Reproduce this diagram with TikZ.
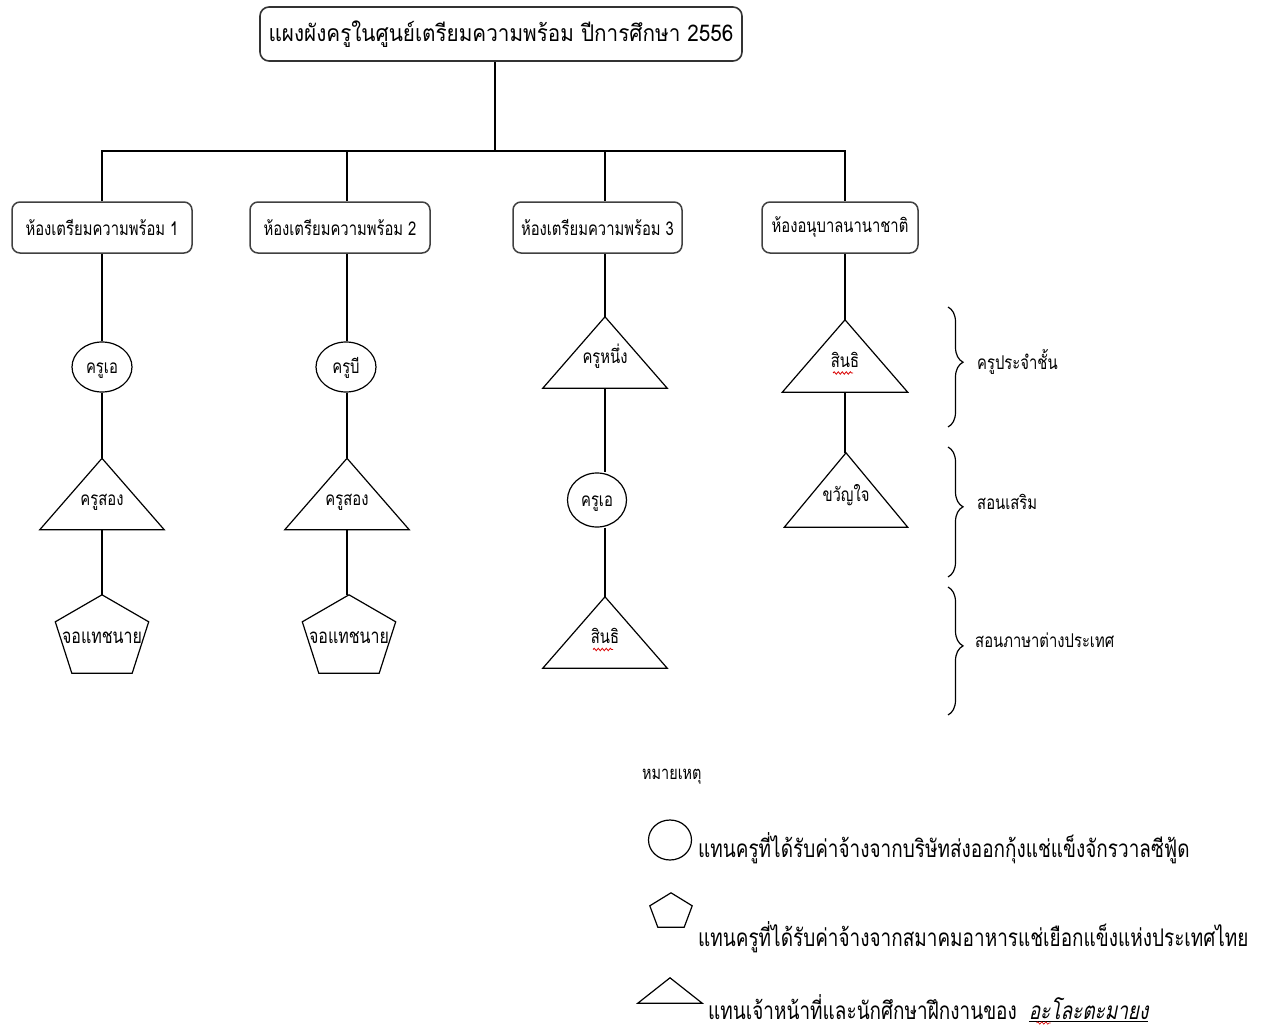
\documentclass[tikz,border=0pt]{standalone}
\usepackage{fontspec}
\newfontfamily\thai[Script=Thai,FakeStretch=0.9]{Loma}
\newfontfamily\thaicond[Script=Thai,FakeStretch=0.78]{Loma}
\newfontfamily\thaislant[Script=Thai,FakeStretch=0.78,FakeSlant=0.2]{Loma}
\usetikzlibrary{shapes.geometric,decorations.pathreplacing,decorations.pathmorphing}
\tikzset{
  conn/.style={draw=black, line width=1.2pt},
  titlebox/.style={draw=black!80, line width=1.6pt, rounded corners=9pt,
    minimum width=482pt, minimum height=54pt, inner sep=0pt,
    font=\thai\fontsize{23}{28}\selectfont},
  roombox/.style={draw=black!75, line width=1.5pt, rounded corners=8pt,
    minimum height=51pt, inner sep=0pt,
    font=\thaicond\fontsize{19}{22}\selectfont},
  lbl/.style={font=\thaicond\fontsize{19}{22}\selectfont},
  ell/.style={ellipse, draw, line width=1.2pt, minimum width=60pt, minimum height=50pt,
    inner sep=0pt, lbl, text height=12pt, text depth=0pt},
  tri/.style={inner sep=0pt, minimum width=124pt, minimum height=71pt, lbl,
    text height=22pt, text depth=0pt,
    append after command={\pgfextra{\draw[line width=1.2pt, line join=miter]
      (\tikzlastnode.south west) -- (\tikzlastnode.north) -- (\tikzlastnode.south east) -- cycle;}}},
  penta/.style={inner sep=0pt, minimum width=93pt, minimum height=78pt,
    font=\thaicond\fontsize{20.5}{24}\selectfont,
    text height=18pt, text depth=0pt,
    append after command={\pgfextra{\draw[line width=1.2pt, line join=miter]
      (\tikzlastnode.north) -- ([yshift=-27pt]\tikzlastnode.north east)
      -- ([xshift=-16.5pt]\tikzlastnode.south east) -- ([xshift=16.5pt]\tikzlastnode.south west)
      -- ([yshift=-27pt]\tikzlastnode.north west) -- cycle;}}},
  legtxt/.style={anchor=west, inner sep=0pt, font=\thaicond\fontsize{24.3}{28}\selectfont},
  bracetxt/.style={anchor=west, inner sep=0pt, font=\thaicond\fontsize{19}{22}\selectfont},
  brc/.style={draw, line width=1.2pt, decorate, decoration={brace, amplitude=15pt, aspect=0.46}},
  squig/.style={draw=red!85!black, line width=0.8pt, decorate,
    decoration={snake, amplitude=1.2pt, segment length=4pt}}
}
\begin{document}
\begin{tikzpicture}[x=1pt,y=-1pt]
\useasboundingbox (0,0) rectangle (1266,1030);

% title
\node[titlebox] (title) at (501,34) {แผงผังครูในศูนย์เตรียมความพร้อม ปีการศึกษา 2556};

% rooms
\node[roombox, minimum width=180pt] (r1) at (102,227.5) {ห้องเตรียมความพร้อม 1};
\node[roombox, minimum width=180pt] (r2) at (340,227.5) {ห้องเตรียมความพร้อม 2};
\node[roombox, minimum width=169pt] (r3) at (597.5,227.5) {ห้องเตรียมความพร้อม 3};
\node[roombox, minimum width=156pt] (r4) at (840,227.5) {ห้องอนุบาลนานาชาติ};

% column 1
\node[ell] (c1a) at (102,367) {ครูเอ};
\node[tri] (c1b) at (102,494) {ครูสอง};
\node[penta] (c1c) at (102,634) {จอแทชนาย};
% column 2
\node[ell] (c2a) at (346,367) {ครูบี};
\node[tri] (c2b) at (347,494) {ครูสอง};
\node[penta] (c2c) at (349,634) {จอแทชนาย};
% column 3
\node[tri] (c3a) at (605,352.5) {ครูหนึ่ง};
\node[ell, minimum width=59pt, minimum height=54pt] (c3b) at (597,500) {ครูเอ};
\node[tri] (c3c) at (605,632.5) {สินธิ};
% column 4
\node[tri, minimum width=125pt, minimum height=72pt] (c4a) at (845,356) {สินธิ};
\node[tri, minimum width=123pt, minimum height=74pt] (c4b) at (846,490) {ขวัญใจ};

% spell-check squiggles
\draw[squig] ([xshift=-12pt,yshift=-17pt]c3c.center) -- ([xshift=8pt,yshift=-17pt]c3c.center);
\draw[squig] ([xshift=-12pt,yshift=-17pt]c4a.center) -- ([xshift=8pt,yshift=-17pt]c4a.center);

% connectors
\coordinate (bus) at (495,151);
\draw[conn] (title.south -| bus) -- (bus);
\draw[conn] (r1.north -| c1a) |- (bus) -| (r4.north -| c4a.north);
\draw[conn] (bus -| c2b.north) -- (r2.north -| c2b.north);
\draw[conn] (bus -| c3a.north) -- (r3.north -| c3a.north);

\draw[conn] (r1.south -| c1a) -- (c1a.north);
\draw[conn] (c1a.south) -- (c1b.north);
\draw[conn] (c1b.south) -- (c1c.north);

\draw[conn] (r2.south -| c2b.north) -- (c2a.north -| c2b.north);
\draw[conn] (c2a.south -| c2b.north) -- (c2b.north);
\draw[conn] (c2b.south) -- (c2c.north -| c2b.south);

\draw[conn] (r3.south -| c3a.north) -- (c3a.north);
\draw[conn] (c3a.south) -- (c3b.north -| c3a.south);
\draw[conn] (c3b.south -| c3a.south) -- (c3c.north);

\draw[conn] (r4.south -| c4a.north) -- (c4a.north);
\draw[conn] (c4a.south) -- (c4b.north -| c4a.south);

% braces
\coordinate (b1t) at (948,307); \coordinate (b1b) at (948,427);
\coordinate (b2t) at (948,447); \coordinate (b2b) at (948,577);
\coordinate (b3t) at (948,587); \coordinate (b3b) at (948,715);
\draw[brc] (b1t) -- (b1b);
\draw[brc] (b2t) -- (b2b);
\draw[brc] (b3t) -- (b3b);
\node[bracetxt] (g1) at (977,362) {ครูประจำชั้น};
\node[bracetxt] (g2) at (977,502) {สอนเสริม};
\node[bracetxt] (g3) at (975,640) {สอนภาษาต่างประเทศ};

% legend
\node[anchor=west, inner sep=0pt, font=\thaicond\fontsize{18.5}{22}\selectfont] (note) at (642,777) {หมายเหตุ};
\node[ellipse, draw, line width=1.2pt, minimum width=43pt, minimum height=40pt, inner sep=0pt] (lc) at (670,840) {};
\node[inner sep=0pt, minimum width=42pt, minimum height=34pt,
  append after command={\pgfextra{\draw[line width=1.2pt, line join=miter]
      (\tikzlastnode.north) -- ([yshift=-13pt]\tikzlastnode.north east)
      -- ([xshift=-8pt]\tikzlastnode.south east) -- ([xshift=8pt]\tikzlastnode.south west)
      -- ([yshift=-13pt]\tikzlastnode.north west) -- cycle;}}] (lp) at (671,910) {};
\node[tri, minimum width=64pt, minimum height=25pt] (lt) at (670,990.5) {};
\node[legtxt] (lt1) at (698,848) {แทนครูที่ได้รับค่าจ้างจากบริษัทส่งออกกุ้งแช่แข็งจักรวาลซีฟู้ด};
\node[legtxt] (lt2) at (698,937) {แทนครูที่ได้รับค่าจ้างจากสมาคมอาหารแช่เยือกแข็งแห่งประเทศไทย};
\node[legtxt] (lt3) at (708,1008) {แทนเจ้าหน้าที่และนักศึกษาฝึกงานของ\hspace{12pt}{\thaislant\underline{อะโละตะมายง}}};
\draw[squig, line width=0.6pt] ([xshift=-112pt,yshift=-15pt]lt3.east) -- ([xshift=-98pt,yshift=-15pt]lt3.east);
\end{tikzpicture}
\end{document}
